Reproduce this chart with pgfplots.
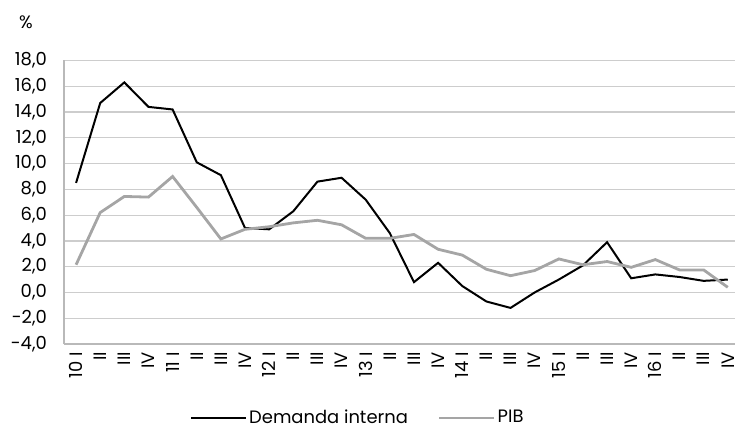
\documentclass[border=0pt]{standalone}
\usepackage{pgfplots}
\pgfplotsset{compat=1.18}
\usepackage{fontspec}
\setmainfont{Poppins}
\definecolor{pibgray}{RGB}{165,165,165}
\definecolor{gridgray}{RGB}{205,205,205}
\definecolor{axisgray}{RGB}{185,185,185}
\begin{document}
\fontsize{18}{21}\selectfont
\begin{tikzpicture}
\path[use as bounding box] (0,0) rectangle (735bp,425bp);
\node at (26bp,403bp) {\%};
\begin{axis}[
  at={(64bp,81bp)}, anchor=south west,
  scale only axis, width=671bp, height=283.5bp,
  xmin=-0.5, xmax=27.3, ymin=-4, ymax=18,
  ytick={-4,-2,...,18},
  xtick={0,...,27},
  xticklabels={10 I,II,III,IV,11 I,II,III,IV,12 I,II,III,IV,13 I,II,III,IV,14 I,II,III,IV,15 I,II,III,IV,16 I,II,III,IV},
  x tick label style={rotate=90, anchor=east},
  xticklabel shift=2bp,
  yticklabel shift=11bp,
  axis x line*=bottom, axis y line*=left,
  axis line style={axisgray, line width=1.2bp, -},
  major tick length=0pt,
  ymajorgrids, grid style={gridgray, line width=1.2bp},
  tick label style={font=\fontsize{18}{21}\selectfont},
  yticklabel style={/pgf/number format/.cd, fixed, fixed zerofill, precision=1, use comma, assume math mode=true},
  legend columns=2,
  legend style={at={(0.1878,-0.261)}, anchor=west, draw=none, fill=none, inner sep=0pt,
    font=\fontsize{18}{21}\selectfont,
    /tikz/every even column/.append style={column sep=28bp}},
  legend image code/.code={\draw[#1] (0bp,0bp) -- (55bp,0bp);},
]
\addplot[black, line width=2bp] coordinates {
(0,8.5) (1,14.7) (2,16.3) (3,14.4) (4,14.2) (5,10.1) (6,9.1) (7,5.0) (8,4.9) (9,6.3)
(10,8.6) (11,8.9) (12,7.2) (13,4.6) (14,0.8) (15,2.3) (16,0.5) (17,-0.7) (18,-1.2) (19,0.0)
(20,1.0) (21,2.1) (22,3.9) (23,1.1) (24,1.4) (25,1.2) (26,0.9) (27,1.0)};
\addlegendentry{Demanda interna}
\addplot[pibgray, line width=2.8bp] coordinates {
(0,2.15) (1,6.2) (2,7.45) (3,7.4) (4,9.0) (5,6.6) (6,4.15) (7,4.9) (8,5.1) (9,5.4)
(10,5.6) (11,5.25) (12,4.2) (13,4.2) (14,4.5) (15,3.35) (16,2.9) (17,1.8) (18,1.3) (19,1.7)
(20,2.6) (21,2.15) (22,2.4) (23,1.95) (24,2.55) (25,1.75) (26,1.75) (27,0.4)};
\addlegendentry{PIB}
\end{axis}
\end{tikzpicture}
\end{document}
